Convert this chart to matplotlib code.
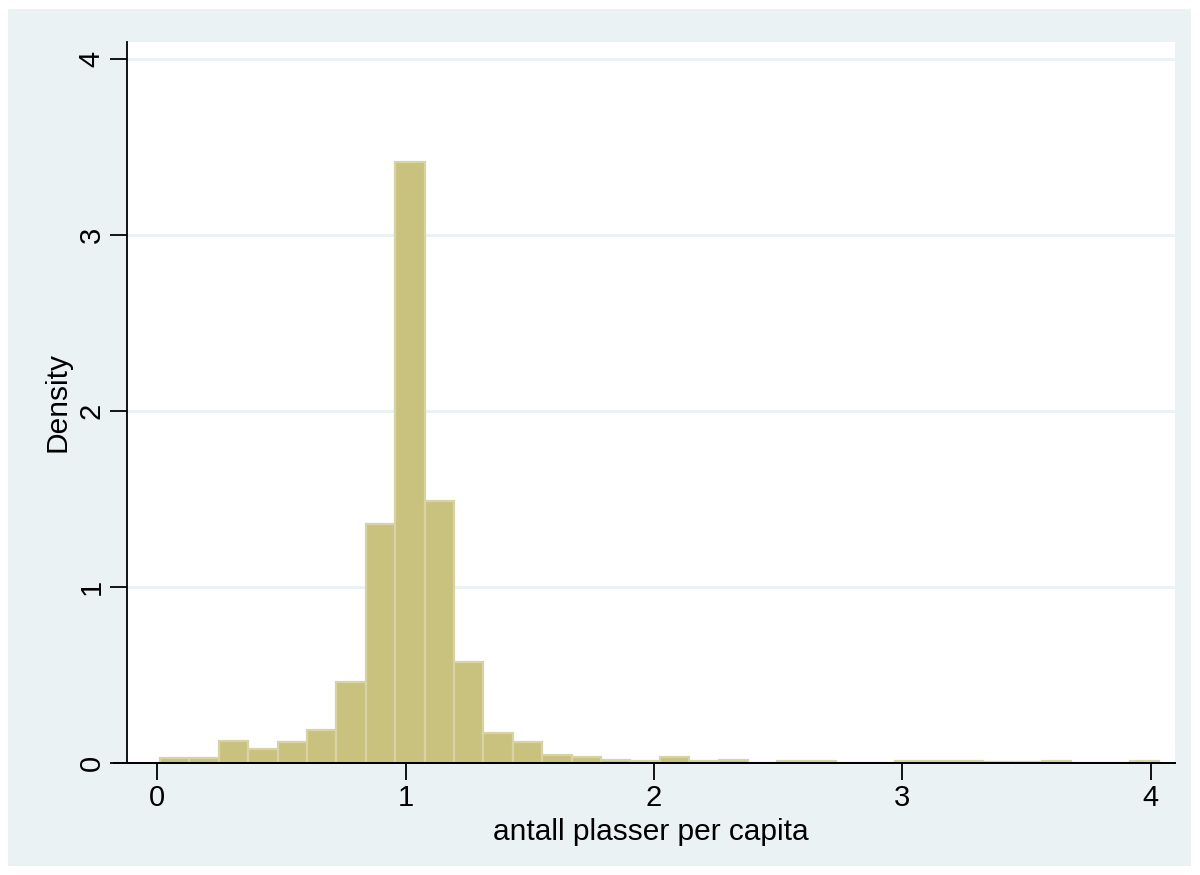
import numpy as np
import matplotlib.pyplot as plt
from matplotlib.patches import Rectangle
from matplotlib.lines import Line2D

plt.rcParams['font.family'] = ['Liberation Sans', 'DejaVu Sans']

# histogram bins (34 bins, start and width)
bin_start = 0.012
bin_width = 0.1183
density = [0.03, 0.03, 0.127, 0.078, 0.121, 0.186, 0.462, 1.36, 3.415, 1.488,
           0.574, 0.168, 0.121, 0.044, 0.036, 0.019, 0.009, 0.034, 0.009, 0.015,
           0.0, 0.009, 0.009, 0.0, 0.0, 0.009, 0.009, 0.009, 0.005, 0.005,
           0.009, 0.0, 0.0, 0.009]
x_ticks = [0, 1, 2, 3, 4]
y_ticks = [0, 1, 2, 3, 4]

bg = '#EAF2F3'
bar_fill = '#C9C27E'
bar_edge = '#D8D3A2'

fig = plt.figure(figsize=(12, 8.75), dpi=100)
fig.patch.set_facecolor('white')
# light outer frame like Stata's graph region
fig.patches.append(Rectangle((8 / 1200, 1 - 866 / 875), 1183 / 1200, 857 / 875,
                             transform=fig.transFigure, facecolor=bg,
                             edgecolor='none', zorder=-1))

ax = fig.add_axes([127 / 1200, 1 - 763 / 875, 1048 / 1200, 721 / 875])
ax.set_zorder(1)
ax.set_facecolor('white')

lefts = bin_start + bin_width * np.arange(len(density))
ax.bar(lefts, density, width=bin_width, align='edge', color=bar_fill,
       edgecolor=bar_edge, linewidth=1.6, zorder=2)

ax.set_xlim(-0.121, 4.097)
ax.set_ylim(0, 4.097)
ax.set_xticks(x_ticks)
ax.set_yticks(y_ticks)
ax.set_yticklabels([str(v) for v in y_ticks], rotation=90, va='center')
ax.tick_params(axis='both', direction='out', length=12, width=1.3,
               labelsize=21, color='black')
ax.tick_params(axis='x', pad=3.2)
ax.tick_params(axis='y', pad=3.5)

for v in y_ticks[1:]:
    ax.axhline(v, color=bg, linewidth=2, zorder=1)

for s in ['top', 'right']:
    ax.spines[s].set_visible(False)
ax.spines['left'].set_linewidth(1.3)
ax.spines['bottom'].set_linewidth(1.3)
# x axis line sticks out a little to the left of the y axis
ax.add_line(Line2D([-0.012, 1.0], [0, 0], transform=ax.transAxes,
                   color='black', linewidth=1.3, clip_on=False, zorder=3))

ax.set_xlabel('antall plasser per capita', fontsize=21.5, labelpad=4)
ax.set_ylabel('Density', fontsize=21.5, labelpad=4)

fig.savefig('out.png', dpi=100, facecolor=fig.get_facecolor())
